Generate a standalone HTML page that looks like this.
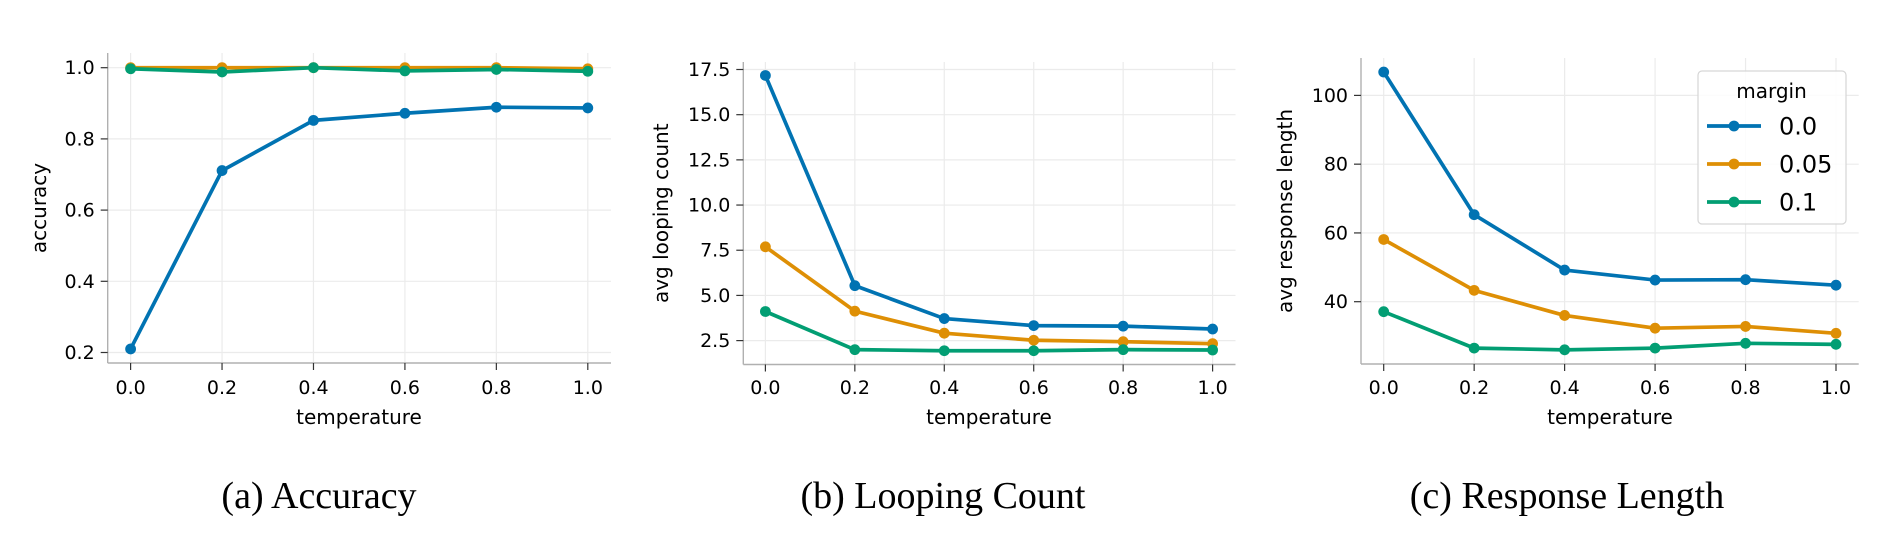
<!DOCTYPE html>
<html><head><meta charset="utf-8">
<style>
html,body{margin:0;padding:0;background:#fff;}
svg{display:block;}
text{font-family:"DejaVu Sans","Liberation Sans",sans-serif;fill:#000;}
.cap{font-family:"Liberation Serif","DejaVu Serif",serif;}
</style></head>
<body>
<svg id="fig" width="1890" height="550" viewBox="0 0 1890 550" xmlns="http://www.w3.org/2000/svg"></svg>
<script>
const temps = [0.0, 0.2, 0.4, 0.6, 0.8, 1.0];
const xTicks = [0.0, 0.2, 0.4, 0.6, 0.8, 1.0];
const xTickLabels = ["0.0","0.2","0.4","0.6","0.8","1.0"];
const seriesNames = ["0.0","0.05","0.1"];
const seriesColors = ["#0173b2","#de8f05","#029e73"];

const accM0 = [0.21, 0.711, 0.852, 0.872, 0.889, 0.887];
const accM005 = [1.0, 1.0, 1.0, 1.0, 1.0, 0.997];
const accM01 = [0.997, 0.988, 1.0, 0.991, 0.995, 0.99];
const accTicks = [0.2, 0.4, 0.6, 0.8, 1.0];
const accTickLabels = ["0.2","0.4","0.6","0.8","1.0"];

const loopM0 = [17.17, 5.54, 3.72, 3.33, 3.30, 3.14];
const loopM005 = [7.69, 4.13, 2.91, 2.52, 2.44, 2.33];
const loopM01 = [4.11, 2.0, 1.94, 1.94, 2.0, 1.98];
const loopTicks = [2.5, 5.0, 7.5, 10.0, 12.5, 15.0, 17.5];
const loopTickLabels = ["2.5","5.0","7.5","10.0","12.5","15.0","17.5"];

const lenM0 = [106.8, 65.3, 49.2, 46.3, 46.4, 44.8];
const lenM005 = [58.1, 43.3, 36.0, 32.3, 32.8, 30.8];
const lenM01 = [37.1, 26.5, 26.0, 26.5, 27.9, 27.6];
const lenTicks = [40, 60, 80, 100];
const lenTickLabels = ["40","60","80","100"];

const NS = "http://www.w3.org/2000/svg";
const svg = document.getElementById("fig");
function mk(tag, attrs, parent){
  const e = document.createElementNS(NS, tag);
  for (const k in attrs) e.setAttribute(k, attrs[k]);
  (parent||svg).appendChild(e);
  return e;
}

const panels = [
  {key:"accuracy", series:[accM0,accM005,accM01], ticks:accTicks, labels:accTickLabels, ylabel:"accuracy", caption:"(a) Accuracy",
   left:107.7, right:611, top:53, bottom:363, x0px:130.6, x1px:587.8, yA:1.0, yApx:67.7, yB:0.2, yBpx:352.5, ylabX:39, capX:319, xlabX:359, legend:false},
  {key:"looping", series:[loopM0,loopM005,loopM01], ticks:loopTicks, labels:loopTickLabels, ylabel:"avg looping count", caption:"(b) Looping Count",
   left:743.3, right:1235.5, top:62, bottom:364.5, x0px:765.4, x1px:1212.6, yA:17.5, yApx:69.5, yB:2.5, yBpx:340.6, ylabX:661, capX:943, xlabX:989, legend:false},
  {key:"response-length", series:[lenM0,lenM005,lenM01], ticks:lenTicks, labels:lenTickLabels, ylabel:"avg response length", caption:"(c) Response Length",
   left:1361, right:1858.7, top:58, bottom:364, x0px:1383.7, x1px:1836, yA:100, yApx:95.4, yB:40, yBpx:301.7, ylabX:1285, capX:1567, xlabX:1610, legend:true}
];

panels.forEach(p => {
  const g = mk("g", {});
  
  
  const xs = v => p.x0px + (v - 0) * (p.x1px - p.x0px) / 1.0;
  const ys = v => p.yBpx + (v - p.yB) * (p.yApx - p.yBpx) / (p.yA - p.yB);
  xTicks.forEach(t => {
    const l = mk("line", {x1:xs(t), x2:xs(t), y1:p.top, y2:p.bottom, stroke:"#ebebeb", "stroke-width":1.2}, g);
    
    
  });
  p.ticks.forEach(t => {
    const l = mk("line", {x1:p.left, x2:p.right, y1:ys(t), y2:ys(t), stroke:"#ebebeb", "stroke-width":1.2}, g);
    
    
  });
  const sl = mk("line", {x1:p.left, x2:p.left, y1:p.top, y2:p.bottom, stroke:"#b0b0b0", "stroke-width":1.4}, g);
  
  
  const sb = mk("line", {x1:p.left, x2:p.right, y1:p.bottom, y2:p.bottom, stroke:"#b0b0b0", "stroke-width":1.4}, g);
  
  
  xTicks.forEach((t,i) => {
    mk("line", {x1:xs(t), x2:xs(t), y1:p.bottom, y2:p.bottom+7, stroke:"#333", "stroke-width":1.2}, g);
    const tx = mk("text", {x:xs(t), y:394, "text-anchor":"middle", "font-size":19}, g);
    tx.textContent = xTickLabels[i];
    
    
  });
  p.ticks.forEach((t,i) => {
    mk("line", {x1:p.left-7, x2:p.left, y1:ys(t), y2:ys(t), stroke:"#333", "stroke-width":1.2}, g);
    const tx = mk("text", {x:p.left-13, y:ys(t)+6.5, "text-anchor":"end", "font-size":19}, g);
    tx.textContent = p.labels[i];
    
    
  });
  const xl = mk("text", {x:p.xlabX, y:424, "text-anchor":"middle", "font-size":20}, g);
  xl.textContent = "temperature";
  
  
  const cy = (p.top + p.bottom)/2;
  const yl = mk("text", {x:p.ylabX, y:cy, "text-anchor":"middle", "font-size":20, transform:`rotate(-90 ${p.ylabX} ${cy})`, dy:"0.35em"}, g);
  yl.textContent = p.ylabel;
  
  
  p.series.forEach((vals, si) => {
    const pts = vals.map((v,i) => xs(temps[i]).toFixed(2) + "," + ys(v).toFixed(2)).join(" ");
    const pl = mk("polyline", {points:pts, fill:"none", stroke:seriesColors[si], "stroke-width":3.7, "stroke-linejoin":"round"}, g);
    
    
    vals.forEach((v,i) => {
      const c = mk("circle", {cx:xs(temps[i]), cy:ys(v), r:5.4, fill:seriesColors[si]}, g);
      
      
    });
  });
  const cap = mk("text", {x:p.capX, y:508, "text-anchor":"middle", "font-size":38, class:"cap"}, g);
  cap.textContent = p.caption;
  
  
  if (p.legend) {
    const lg = mk("g", {}, g);
    
    
    mk("rect", {x:1698, y:71, width:148, height:153, rx:4, fill:"#fff", "fill-opacity":0.85, stroke:"#d6d6d6", "stroke-width":1.2}, lg);
    const lt = mk("text", {x:1771.5, y:98, "text-anchor":"middle", "font-size":20}, lg);
    lt.textContent = "margin";
    
    
    seriesNames.forEach((nm, si) => {
      const y = 126 + si*38;
      const e = mk("g", {}, lg);
      
      
      mk("line", {x1:1707, x2:1761, y1:y, y2:y, stroke:seriesColors[si], "stroke-width":3.7}, e);
      mk("circle", {cx:1734, cy:y, r:5.4, fill:seriesColors[si]}, e);
      const t = mk("text", {x:1779, y:y+8.5, "font-size":24}, e);
      t.textContent = nm;
    });
  }
});
</script>
</body></html>
